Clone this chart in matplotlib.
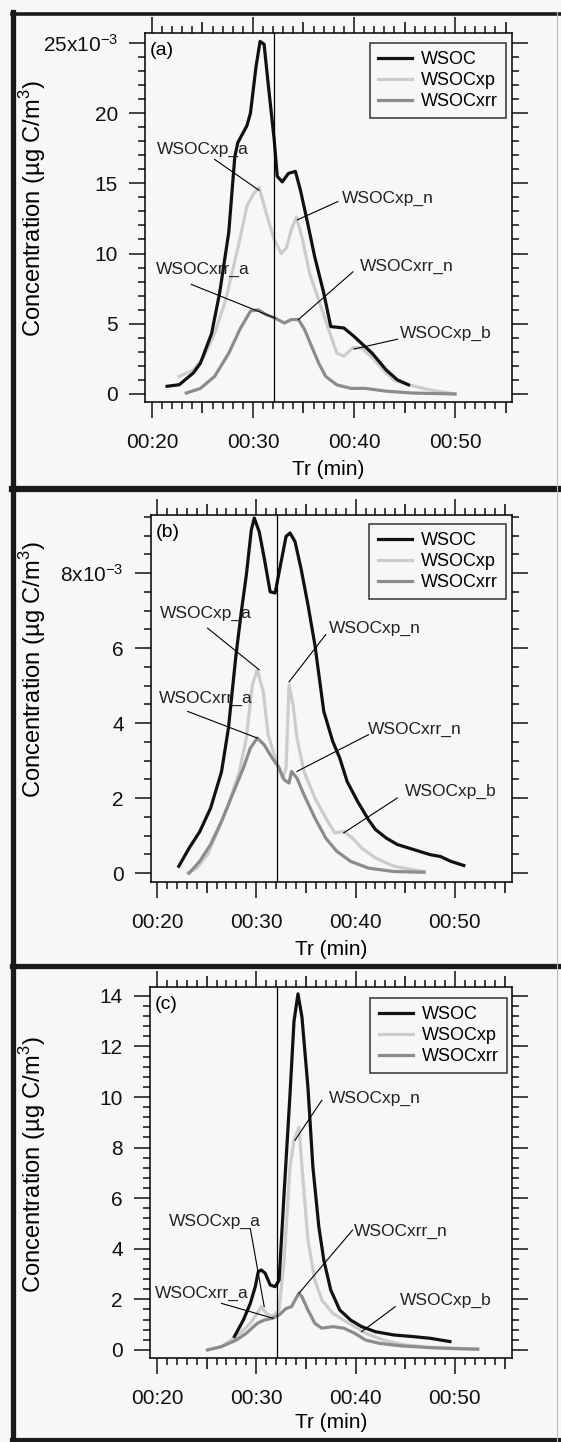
import numpy as np
import matplotlib
matplotlib.use('Agg')
import matplotlib.pyplot as plt
from matplotlib.lines import Line2D
from matplotlib.ticker import FixedLocator

plt.rcParams['font.family'] = ['Liberation Sans', 'DejaVu Sans']
plt.rcParams['mathtext.fontset'] = 'custom'
plt.rcParams['mathtext.rm'] = 'Liberation Sans'

# ---- data (retention time in minutes, concentration) ----
# panel (a), values in 10^-3 ug C/m3
t_wsoc_a = [21.5, 22.7, 24.1, 24.8, 25.9, 26.7, 27.6, 28.2, 28.5, 29.4, 29.75, 30.3, 30.7, 31.1, 31.5,
            32.1, 32.4, 32.9, 33.5, 34.2, 34.7, 35.4, 36.1, 37.0, 37.7, 39.0, 40.0, 41.8, 43.2, 44.3, 45.4]
wsoc_a = [0.55, 0.66, 1.5, 2.2, 4.3, 7.2, 11.5, 16.9, 17.9, 19.1, 20.0, 23.3, 25.1, 24.9, 22.1,
          18.1, 15.5, 15.1, 15.7, 15.85, 14.5, 12.2, 9.8, 7.2, 4.8, 4.7, 4.1, 2.9, 1.7, 1.0, 0.65]
t_xp_a = [22.7, 24.1, 25.1, 26.2, 27.3, 28.0, 28.7, 29.4, 30.1, 30.6, 31.3, 32.1, 32.8, 33.3, 33.8,
          34.3, 34.9, 35.6, 36.5, 37.4, 38.3, 39.0, 39.9, 40.7, 41.8, 42.9, 43.9, 45.4, 47.5, 50.0]
xp_a = [1.25, 1.7, 2.6, 4.3, 6.7, 8.85, 11.0, 13.4, 14.3, 14.7, 12.9, 11.0, 10.0, 10.4, 11.7,
        12.6, 11.0, 8.6, 6.7, 4.8, 2.9, 2.7, 3.3, 3.3, 2.6, 1.7, 1.0, 0.65, 0.3, 0.0]
t_xrr_a = [23.4, 24.8, 26.2, 27.6, 28.7, 29.75, 30.5, 31.3, 32.2, 33.1, 33.8, 34.5, 35.1, 35.8, 36.5,
           37.2, 38.3, 39.7, 41.1, 43.2, 45.7, 50.0]
xrr_a = [0.07, 0.4, 1.25, 2.9, 4.6, 5.9, 6.0, 5.65, 5.4, 5.05, 5.3, 5.3, 4.6, 3.4, 2.2,
         1.25, 0.65, 0.4, 0.4, 0.2, 0.07, 0.0]

# panel (b), values in 10^-3 ug C/m3
t_wsoc_b = [22.2, 23.25, 24.3, 25.4, 26.5, 27.2, 27.95, 28.5, 29.0, 29.5, 29.8, 30.3, 30.8, 31.4, 31.9,
            32.5, 33.0, 33.4, 33.9, 34.5, 35.2, 35.9, 36.8, 37.7, 38.4, 39.15, 40.2, 41.3, 42.0, 43.1,
            44.2, 45.3, 46.4, 47.5, 48.55, 49.6, 50.9]
wsoc_b = [0.18, 0.67, 1.1, 1.73, 2.7, 3.87, 5.8, 6.98, 7.95, 9.15, 9.47, 9.1, 8.4, 7.5, 7.47,
          8.3, 8.98, 9.07, 8.84, 8.13, 7.16, 6.09, 4.31, 3.51, 3.07, 2.44, 1.91, 1.42, 1.16, 0.93,
          0.76, 0.67, 0.58, 0.49, 0.44, 0.31, 0.2]
t_xp_b = [23.1, 24.0, 25.1, 26.1, 27.2, 28.3, 29.0, 29.6, 30.1, 30.7, 31.2, 31.9, 32.65, 33.0, 33.3,
          33.7, 34.1, 34.8, 35.9, 37.0, 37.9, 38.8, 39.7, 40.6, 42.0, 43.85, 45.7, 46.9]
xp_b = [0.0, 0.13, 0.49, 1.1, 1.82, 2.71, 3.6, 5.02, 5.42, 4.84, 3.69, 3.07, 2.53, 2.8, 5.02,
        4.49, 3.6, 2.71, 2.0, 1.47, 1.07, 1.11, 0.93, 0.67, 0.4, 0.18, 0.09, 0.04]
t_xrr_b = [23.25, 24.3, 25.4, 26.5, 27.6, 28.7, 29.4, 30.1, 30.8, 31.6, 32.3, 32.8, 33.3, 33.55, 34.1,
           34.8, 35.9, 37.0, 38.1, 39.5, 41.3, 43.85, 46.9]
xrr_b = [0.0, 0.31, 0.76, 1.38, 2.09, 2.8, 3.33, 3.6, 3.42, 3.07, 2.8, 2.49, 2.4, 2.71, 2.53,
         2.09, 1.47, 0.93, 0.58, 0.31, 0.13, 0.04, 0.02]

# panel (c), values in ug C/m3
t_wsoc_c = [27.8, 28.7, 29.4, 29.9, 30.2, 30.5, 30.9, 31.4, 31.9, 32.3, 32.8, 33.4, 33.8, 34.2, 34.6,
            35.2, 35.7, 36.3, 36.8, 37.5, 38.4, 39.5, 40.6, 42.0, 43.85, 45.7, 47.5, 49.5]
wsoc_c = [0.53, 1.18, 1.84, 2.5, 3.09, 3.16, 3.03, 2.57, 2.5, 2.76, 6.18, 10.13, 13.0, 14.08, 13.16,
          10.4, 7.24, 4.87, 3.55, 2.37, 1.58, 1.18, 0.92, 0.72, 0.59, 0.53, 0.46, 0.33]
t_xp_c = [25.1, 26.5, 28.0, 29.4, 30.1, 30.5, 31.0, 31.6, 32.3, 32.8, 33.4, 33.8, 34.3, 34.6, 35.2,
          35.9, 36.6, 37.7, 38.8, 39.9, 41.0, 42.8, 44.9, 47.5, 50.0, 52.3]
xp_c = [0.0, 0.13, 0.53, 1.05, 1.45, 1.71, 1.45, 1.32, 1.58, 3.55, 7.24, 8.29, 8.8, 7.24, 4.34,
        2.76, 1.97, 1.45, 1.18, 0.92, 0.66, 0.39, 0.2, 0.1, 0.07, 0.03]
t_xrr_c = [25.1, 26.5, 28.0, 29.0, 30.1, 30.8, 31.6, 32.3, 33.0, 33.55, 33.9, 34.3, 34.6, 35.2, 35.9,
           36.6, 37.7, 38.8, 39.9, 41.0, 42.4, 44.6, 47.5, 50.0, 52.3]
xrr_c = [0.0, 0.13, 0.39, 0.66, 1.05, 1.18, 1.25, 1.38, 1.64, 1.71, 1.97, 2.24, 2.1, 1.58, 1.05,
         0.86, 0.92, 0.86, 0.66, 0.39, 0.26, 0.16, 0.09, 0.05, 0.03]

series_names = ['WSOC', 'WSOCxp', 'WSOCxrr']
x_major = [20, 30, 40, 50]
x_labels = ['00:20', '00:30', '00:40', '00:50']
inject_time = 32.05

W, H = 561, 1442
BG = '#f7f7f7'
colors = ['#111111', '#cccccc', '#8c8c8c']

fig = plt.figure(figsize=(W / 100, H / 100), dpi=100, facecolor=BG)


def box(l, t, r, b):
    return [l / W, 1 - b / H, (r - l) / W, (b - t) / H]


def draw_panel(rect, xlim, ylim, scale, yticks, ylabels, yminor, series, notes, tag, leg_anchor,
               ylab_xy, xlab_y):
    ax = fig.add_axes(rect)
    ax.set_facecolor('none')
    for (tt, vv), name, c in zip(series, series_names, colors):
        ax.plot(np.array(tt), np.array(vv) * scale, color=c, lw=2.3, label=name,
                solid_joinstyle='round', zorder=3 if name == 'WSOC' else 2)
    ax.axvline(inject_time, color='black', lw=0.9, zorder=4)
    for txt, (tx, ty), (x0, y0), (x1, y1) in notes:
        ax.text(tx, ty * scale, txt, ha='center', va='center', fontsize=12.5, color='#222222')
        ax.plot([x0, x1], [y0 * scale, y1 * scale], color='black', lw=0.8, zorder=5)
    ax.text(0.012, 0.975, tag, transform=ax.transAxes, ha='left', va='top', fontsize=14)

    ax.set_xlim(*xlim)
    ax.set_ylim(ylim[0] * scale, ylim[1] * scale)
    ax.set_xticks(x_major)
    ax.set_xticklabels(x_labels)
    ax.xaxis.set_minor_locator(FixedLocator([m for m in range(20, 56) if m % 5]))
    ax.set_yticks([v * scale for v in yticks])
    ax.set_yticklabels(ylabels)
    ax.yaxis.set_minor_locator(FixedLocator([v * scale for v in yminor]))
    ax.tick_params(which='both', direction='out', top=True, right=True, width=1.1,
                   labelsize=15, colors='#111111')
    ax.tick_params(which='major', length=11.5)
    ax.tick_params(which='minor', length=5)
    ax.tick_params(axis='x', pad=11)
    ax.tick_params(axis='y', pad=8)
    for s in ax.spines.values():
        s.set_linewidth(1.1)

    for side in ('bottom', 'top'):
        sec = ax.secondary_xaxis(side)
        sec.set_xticks([25, 35, 45, 55])
        sec.set_xticklabels([])
        sec.tick_params(direction='out', length=8, width=1.1)
        sec.spines[side].set_visible(False)

    ax.set_xlabel('Tr (min)', fontsize=15)
    ax.xaxis.set_label_coords(0.5, xlab_y)
    ax.set_ylabel('Concentration (\u00b5g C/m$^{\\mathregular{3}}$)', fontsize=17)
    ax.yaxis.set_label_coords(*ylab_xy)

    leg = ax.legend(loc='upper right', bbox_to_anchor=leg_anchor, fontsize=13, frameon=True,
                    fancybox=False, edgecolor='#333333', facecolor=BG, framealpha=1,
                    borderaxespad=0, borderpad=0.45, labelspacing=0.22, handlelength=1.9,
                    handletextpad=0.5)
    leg.get_frame().set_linewidth(1.1)
    return ax


notes_a = [('WSOCxp_a', (25.0, 17.4), (26.2, 16.7), (30.6, 14.5)),
           ('WSOCxp_n', (43.4, 13.95), (38.4, 13.7), (34.4, 12.4)),
           ('WSOCxrr_a', (25.0, 8.85), (23.9, 7.8), (32.2, 5.4)),
           ('WSOCxrr_n', (45.2, 9.1), (39.9, 8.7), (34.5, 5.3)),
           ('WSOCxp_b', (49.1, 4.3), (44.3, 3.9), (40.0, 3.2))]
notes_b = [('WSOCxp_a', (24.9, 6.93), (25.1, 6.53), (30.3, 5.42)),
           ('WSOCxp_n', (41.9, 6.53), (37.0, 6.36), (33.3, 5.1)),
           ('WSOCxrr_a', (24.9, 4.67), (23.1, 4.31), (30.1, 3.6)),
           ('WSOCxrr_n', (46.0, 3.82), (41.3, 3.69), (34.1, 2.71)),
           ('WSOCxp_b', (49.6, 2.18), (44.2, 2.0), (38.8, 1.07))]
notes_c = [('WSOCxp_a', (25.8, 5.07), (29.4, 4.8), (30.8, 1.71)),
           ('WSOCxp_n', (41.9, 9.93), (36.6, 9.87), (33.9, 8.29)),
           ('WSOCxrr_a', (24.5, 2.24), (26.5, 1.84), (31.7, 1.25)),
           ('WSOCxrr_n', (44.6, 4.67), (39.7, 4.74), (34.3, 2.24)),
           ('WSOCxp_b', (49.1, 1.97), (44.0, 1.71), (40.6, 0.72))]

exp_lab = '$\\mathregular{x10^{-3}}$'

draw_panel(box(145, 33, 512, 402), (19.31, 55.64), (-0.57, 25.7), 1e-3,
           [0, 5, 10, 15, 20, 25], ['0', '5', '10', '15', '20', '25' + exp_lab],
           [m for m in range(0, 26) if m % 5],
           [(t_wsoc_a, wsoc_a), (t_xp_a, xp_a), (t_xrr_a, xrr_a)], notes_a, '(a)',
           (0.984, 0.973), (-0.265, 0.525), -0.157)

draw_panel(box(151, 515, 512, 882), (19.40, 55.75), (-0.24, 9.55), 1e-3,
           [0, 2, 4, 6, 8], ['0', '2', '4', '6', '8' + exp_lab],
           [0.5, 1, 1.5, 2.5, 3, 3.5, 4.5, 5, 5.5, 6.5, 7, 7.5, 8.5, 9, 9.5],
           [(t_wsoc_b, wsoc_b), (t_xp_b, xp_b), (t_xrr_b, xrr_b)], notes_b, '(b)',
           (0.983, 0.975), (-0.285, 0.58), -0.157)

draw_panel(box(150, 987, 512, 1358), (19.30, 55.75), (-0.32, 14.35), 1.0,
           [0, 2, 4, 6, 8, 10, 12, 14], ['0', '2', '4', '6', '8', '10', '12', '14'],
           [round(v, 1) for v in np.arange(0, 14.01, 0.4) if abs(v / 2 - round(v / 2)) > 1e-6],
           [(t_wsoc_c, wsoc_c), (t_xp_c, xp_c), (t_xrr_c, xrr_c)], notes_c, '(c)',
           (0.986, 0.970), (-0.283, 0.52), -0.148)

# panel frames of the scanned figure
def hline(y, lw):
    fig.add_artist(Line2D([12 / W, 1], [1 - y / H, 1 - y / H], color='#1a1a1a', lw=lw,
                          transform=fig.transFigure))

hline(13.5, 2.6)
hline(489, 4.5)
hline(966, 3.8)
hline(1440, 3.0)
fig.add_artist(Line2D([12.5 / W, 12.5 / W], [0, 1 - 12 / H], color='#1a1a1a', lw=3.8,
                      transform=fig.transFigure))
fig.add_artist(Line2D([557 / W, 557 / W], [0, 1 - 12 / H], color='#bbbbbb', lw=0.8,
                      transform=fig.transFigure))

fig.savefig('out.png', dpi=100, facecolor=BG)
